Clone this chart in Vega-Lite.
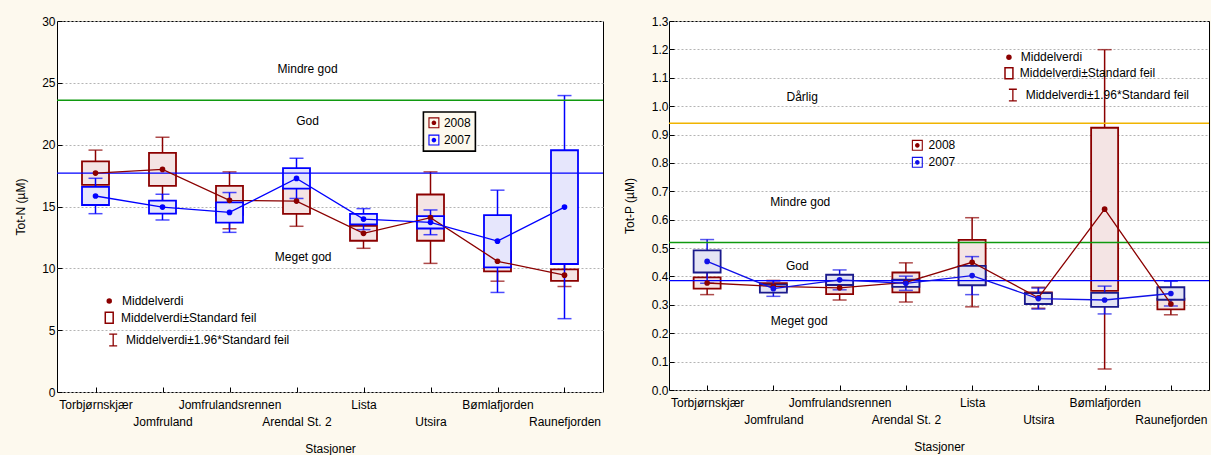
{
  "$schema": "https://vega.github.io/schema/vega-lite/v6.json",
  "background": "#FDF9EE",
  "padding": {"left": 14, "top": 14, "right": 0, "bottom": 0},
  "spacing": 17,
  "datasets": {
    "totN": [
      {"i": 0, "station": "Torbjørnskjær", "year": "2008", "lo95": 15.84, "lo": 16.75, "mean": 17.7, "hi": 18.65, "hi95": 19.56},
      {"i": 0, "station": "Torbjørnskjær", "year": "2007", "lo95": 14.42, "lo": 15.12, "mean": 15.85, "hi": 16.58, "hi95": 17.28},
      {"i": 1, "station": "Jomfruland", "year": "2008", "lo95": 15.4, "lo": 16.67, "mean": 18.0, "hi": 19.33, "hi95": 20.6},
      {"i": 1, "station": "Jomfruland", "year": "2007", "lo95": 13.91, "lo": 14.42, "mean": 14.95, "hi": 15.48, "hi95": 15.99},
      {"i": 2, "station": "Jomfrulandsrennen", "year": "2008", "lo95": 13.2, "lo": 14.33, "mean": 15.5, "hi": 16.67, "hi95": 17.8},
      {"i": 2, "station": "Jomfrulandsrennen", "year": "2007", "lo95": 12.91, "lo": 13.7, "mean": 14.52, "hi": 15.34, "hi95": 16.13},
      {"i": 3, "station": "Arendal St. 2", "year": "2008", "lo95": 13.4, "lo": 14.4, "mean": 15.44, "hi": 16.48, "hi95": 17.48},
      {"i": 3, "station": "Arendal St. 2", "year": "2007", "lo95": 15.65, "lo": 16.44, "mean": 17.27, "hi": 18.1, "hi95": 18.9},
      {"i": 4, "station": "Lista", "year": "2008", "lo95": 11.62, "lo": 12.23, "mean": 12.83, "hi": 13.43, "hi95": 14.04},
      {"i": 4, "station": "Lista", "year": "2007", "lo95": 13.13, "lo": 13.55, "mean": 13.98, "hi": 14.41, "hi95": 14.83},
      {"i": 5, "station": "Utsira", "year": "2008", "lo95": 10.4, "lo": 12.23, "mean": 14.1, "hi": 15.97, "hi95": 17.8},
      {"i": 5, "station": "Utsira", "year": "2007", "lo95": 12.72, "lo": 13.22, "mean": 13.72, "hi": 14.22, "hi95": 14.72},
      {"i": 6, "station": "Bømlafjorden", "year": "2008", "lo95": 8.96, "lo": 9.75, "mean": 10.57, "hi": 11.39, "hi95": 12.18},
      {"i": 6, "station": "Bømlafjorden", "year": "2007", "lo95": 8.05, "lo": 10.08, "mean": 12.2, "hi": 14.3, "hi95": 16.32},
      {"i": 7, "station": "Raunefjorden", "year": "2008", "lo95": 8.53, "lo": 8.98, "mean": 9.45, "hi": 9.92, "hi95": 10.37},
      {"i": 7, "station": "Raunefjorden", "year": "2007", "lo95": 5.93, "lo": 10.35, "mean": 14.95, "hi": 19.55, "hi95": 23.97}
    ],
    "totP": [
      {"i": 0, "station": "Torbjørnskjær", "year": "2008", "lo95": 0.336, "lo": 0.357, "mean": 0.377, "hi": 0.397, "hi95": 0.418},
      {"i": 0, "station": "Torbjørnskjær", "year": "2007", "lo95": 0.376, "lo": 0.414, "mean": 0.453, "hi": 0.492, "hi95": 0.53},
      {"i": 1, "station": "Jomfruland", "year": "2008", "lo95": 0.344, "lo": 0.354, "mean": 0.365, "hi": 0.376, "hi95": 0.386},
      {"i": 1, "station": "Jomfruland", "year": "2007", "lo95": 0.33, "lo": 0.343, "mean": 0.357, "hi": 0.371, "hi95": 0.384},
      {"i": 2, "station": "Jomfrulandsrennen", "year": "2008", "lo95": 0.317, "lo": 0.338, "mean": 0.36, "hi": 0.382, "hi95": 0.403},
      {"i": 2, "station": "Jomfrulandsrennen", "year": "2007", "lo95": 0.353, "lo": 0.37, "mean": 0.388, "hi": 0.406, "hi95": 0.423},
      {"i": 3, "station": "Arendal St. 2", "year": "2008", "lo95": 0.31, "lo": 0.344, "mean": 0.379, "hi": 0.414, "hi95": 0.448},
      {"i": 3, "station": "Arendal St. 2", "year": "2007", "lo95": 0.351, "lo": 0.363, "mean": 0.376, "hi": 0.389, "hi95": 0.401},
      {"i": 4, "station": "Lista", "year": "2008", "lo95": 0.293, "lo": 0.371, "mean": 0.45, "hi": 0.529, "hi95": 0.607},
      {"i": 4, "station": "Lista", "year": "2007", "lo95": 0.336, "lo": 0.369, "mean": 0.403, "hi": 0.437, "hi95": 0.47},
      {"i": 5, "station": "Utsira", "year": "2008", "lo95": 0.288, "lo": 0.306, "mean": 0.325, "hi": 0.344, "hi95": 0.362},
      {"i": 5, "station": "Utsira", "year": "2007", "lo95": 0.285, "lo": 0.303, "mean": 0.322, "hi": 0.341, "hi95": 0.359},
      {"i": 6, "station": "Bømlafjorden", "year": "2008", "lo95": 0.074, "lo": 0.349, "mean": 0.637, "hi": 0.924, "hi95": 1.199},
      {"i": 6, "station": "Bømlafjorden", "year": "2007", "lo95": 0.268, "lo": 0.293, "mean": 0.317, "hi": 0.342, "hi95": 0.366},
      {"i": 7, "station": "Raunefjorden", "year": "2008", "lo95": 0.265, "lo": 0.284, "mean": 0.303, "hi": 0.322, "hi95": 0.341},
      {"i": 7, "station": "Raunefjorden", "year": "2007", "lo95": 0.296, "lo": 0.318, "mean": 0.34, "hi": 0.362, "hi95": 0.383}
    ],
    "refN": [
      {"v": 23.6, "k": "green"},
      {"v": 17.7, "k": "blue"}
    ],
    "refP": [
      {"v": 0.94, "k": "yellow"},
      {"v": 0.52, "k": "green"},
      {"v": 0.385, "k": "blue"}
    ],
    "zonesN": [
      {"x": 3.165, "y": 26.1, "t": "Mindre god"},
      {"x": 3.165, "y": 21.9, "t": "God"},
      {"x": 3.1, "y": 10.9, "t": "Meget god"}
    ],
    "zonesP": [
      {"x": 1.435, "y": 1.031, "t": "Dårlig"},
      {"x": 1.405, "y": 0.664, "t": "Mindre god"},
      {"x": 1.36, "y": 0.438, "t": "God"},
      {"x": 1.39, "y": 0.242, "t": "Meget god"}
    ],
    "notesN": [
      {"sx": 0.205, "tx": 0.396, "y": 7.36, "t": "Middelverdi", "sym": "dot"},
      {"sx": 0.205, "tx": 0.381, "y": 6.0, "t": "Middelverdi±Standard feil", "sym": "box"},
      {"sx": 0.264, "tx": 0.454, "y": 4.2, "t": "Middelverdi±1.96*Standard feil", "sym": "whisker"}
    ],
    "notesP": [
      {"sx": 4.556, "tx": 4.734, "y": 1.172, "t": "Middelverdi", "sym": "dot"},
      {"sx": 4.556, "tx": 4.72, "y": 1.116, "t": "Middelverdi±Standard feil", "sym": "box"},
      {"sx": 4.615, "tx": 4.808, "y": 1.039, "t": "Middelverdi±1.96*Standard feil", "sym": "whisker"}
    ],
    "keyN": [
      {"year": "2008", "sx": 5.051, "tx": 5.2, "y": 21.77},
      {"year": "2007", "sx": 5.051, "tx": 5.2, "y": 20.37}
    ],
    "keyBoxN": [
      {"x": 4.894, "x2": 5.67, "y": 22.64, "y2": 19.48}
    ],
    "keyP": [
      {"year": "2008", "sx": 3.173, "tx": 3.343, "y": 0.862},
      {"year": "2007", "sx": 3.173, "tx": 3.343, "y": 0.802}
    ]
  },
  "hconcat": [
    {
      "width": 546,
      "height": 371,
      "layer": [
        {
          "data": {"name": "zonesN"},
          "mark": {"type": "text", "fontSize": 12, "font": "Liberation Sans", "color": "black"},
          "encoding": {
            "x": {"field": "x", "type": "quantitative", "scale": {"domain": [-0.5, 7.5], "nice": false, "zero": false},
              "axis": {"title": "Stasjoner", "values": [0, 1, 2, 3, 4, 5, 6, 7], "labelExpr": "['Torbjørnskjær','Jomfruland','Jomfrulandsrennen','Arendal St. 2','Lista','Utsira','Bømlafjorden','Raunefjorden'][datum.value]", "labelPadding": {"condition": {"test": "datum.value % 2 == 1", "value": 29}, "value": 12}, "grid": false, "tickSize": -5, "labelOverlap": false, "labelFlush": false, "titlePadding": 16}},
            "y": {"field": "y", "type": "quantitative", "scale": {"domain": [0, 30], "nice": false, "zero": false},
              "axis": {"title": "Tot-N (µM)", "values": [0, 5, 10, 15, 20, 25, 30], "grid": true, "gridDash": [2, 2], "gridColor": "#b4b4b4", "tickSize": -5, "labelPadding": 7, "titlePadding": 14, "labelOverlap": false}},
            "text": {"field": "t"}
          }
        },
        {
          "data": {"name": "totN"},
          "transform": [{"filter": "datum.year == '2008'"}],
          "mark": {"type": "errorbar", "ticks": {"size": 14}, "thickness": 1.5},
          "encoding": {
            "x": {"field": "i", "type": "quantitative", "scale": {"domain": [-0.5, 7.5], "nice": false, "zero": false},
              "axis": {"title": "Stasjoner", "values": [0, 1, 2, 3, 4, 5, 6, 7], "labelExpr": "['Torbjørnskjær','Jomfruland','Jomfrulandsrennen','Arendal St. 2','Lista','Utsira','Bømlafjorden','Raunefjorden'][datum.value]", "labelPadding": {"condition": {"test": "datum.value % 2 == 1", "value": 29}, "value": 12}, "grid": false, "tickSize": -5, "labelOverlap": false, "labelFlush": false, "titlePadding": 16}},
            "y": {"field": "lo95", "type": "quantitative", "scale": {"domain": [0, 30], "nice": false, "zero": false},
              "axis": {"title": "Tot-N (µM)", "values": [0, 5, 10, 15, 20, 25, 30], "grid": true, "gridDash": [2, 2], "gridColor": "#b4b4b4", "tickSize": -5, "labelPadding": 7, "titlePadding": 14, "labelOverlap": false}},
            "y2": {"field": "hi95"},
            "color": {"field": "year", "type": "nominal", "scale": {"domain": ["2008", "2007"], "range": ["#8B0000", "#0000FF"]}, "legend": null}
          }
        },
        {
          "data": {"name": "totN"},
          "transform": [{"filter": "datum.year == '2008'"}],
          "mark": {"type": "bar", "fill": "#F4E4E4", "strokeWidth": 1.8, "size": 27, "stroke": "#8B0000"},
          "encoding": {
            "x": {"field": "i", "type": "quantitative", "scale": {"domain": [-0.5, 7.5], "nice": false, "zero": false},
              "axis": {"title": "Stasjoner", "values": [0, 1, 2, 3, 4, 5, 6, 7], "labelExpr": "['Torbjørnskjær','Jomfruland','Jomfrulandsrennen','Arendal St. 2','Lista','Utsira','Bømlafjorden','Raunefjorden'][datum.value]", "labelPadding": {"condition": {"test": "datum.value % 2 == 1", "value": 29}, "value": 12}, "grid": false, "tickSize": -5, "labelOverlap": false, "labelFlush": false, "titlePadding": 16}},
            "y": {"field": "lo", "type": "quantitative", "scale": {"domain": [0, 30], "nice": false, "zero": false},
              "axis": {"title": "Tot-N (µM)", "values": [0, 5, 10, 15, 20, 25, 30], "grid": true, "gridDash": [2, 2], "gridColor": "#b4b4b4", "tickSize": -5, "labelPadding": 7, "titlePadding": 14, "labelOverlap": false}},
            "y2": {"field": "hi"}
          }
        },
        {
          "data": {"name": "totN"},
          "transform": [{"filter": "datum.year == '2007'"}],
          "mark": {"type": "errorbar", "ticks": {"size": 14}, "thickness": 1.5},
          "encoding": {
            "x": {"field": "i", "type": "quantitative", "scale": {"domain": [-0.5, 7.5], "nice": false, "zero": false},
              "axis": {"title": "Stasjoner", "values": [0, 1, 2, 3, 4, 5, 6, 7], "labelExpr": "['Torbjørnskjær','Jomfruland','Jomfrulandsrennen','Arendal St. 2','Lista','Utsira','Bømlafjorden','Raunefjorden'][datum.value]", "labelPadding": {"condition": {"test": "datum.value % 2 == 1", "value": 29}, "value": 12}, "grid": false, "tickSize": -5, "labelOverlap": false, "labelFlush": false, "titlePadding": 16}},
            "y": {"field": "lo95", "type": "quantitative", "scale": {"domain": [0, 30], "nice": false, "zero": false},
              "axis": {"title": "Tot-N (µM)", "values": [0, 5, 10, 15, 20, 25, 30], "grid": true, "gridDash": [2, 2], "gridColor": "#b4b4b4", "tickSize": -5, "labelPadding": 7, "titlePadding": 14, "labelOverlap": false}},
            "y2": {"field": "hi95"},
            "color": {"field": "year", "type": "nominal", "scale": {"domain": ["2008", "2007"], "range": ["#8B0000", "#0000FF"]}, "legend": null}
          }
        },
        {
          "data": {"name": "totN"},
          "transform": [{"filter": "datum.year == '2007'"}],
          "mark": {"type": "bar", "fill": "#E6E6FC", "strokeWidth": 1.8, "size": 27, "stroke": "#0000FF"},
          "encoding": {
            "x": {"field": "i", "type": "quantitative", "scale": {"domain": [-0.5, 7.5], "nice": false, "zero": false},
              "axis": {"title": "Stasjoner", "values": [0, 1, 2, 3, 4, 5, 6, 7], "labelExpr": "['Torbjørnskjær','Jomfruland','Jomfrulandsrennen','Arendal St. 2','Lista','Utsira','Bømlafjorden','Raunefjorden'][datum.value]", "labelPadding": {"condition": {"test": "datum.value % 2 == 1", "value": 29}, "value": 12}, "grid": false, "tickSize": -5, "labelOverlap": false, "labelFlush": false, "titlePadding": 16}},
            "y": {"field": "lo", "type": "quantitative", "scale": {"domain": [0, 30], "nice": false, "zero": false},
              "axis": {"title": "Tot-N (µM)", "values": [0, 5, 10, 15, 20, 25, 30], "grid": true, "gridDash": [2, 2], "gridColor": "#b4b4b4", "tickSize": -5, "labelPadding": 7, "titlePadding": 14, "labelOverlap": false}},
            "y2": {"field": "hi"}
          }
        },
        {
          "data": {"name": "refN"},
          "transform": [{"filter": "datum.k == 'green'"}],
          "mark": {"type": "rule", "color": "#109A10", "strokeWidth": 1.5},
          "encoding": {"y": {"field": "v", "type": "quantitative", "scale": {"domain": [0, 30], "nice": false, "zero": false},
            "axis": {"title": "Tot-N (µM)", "values": [0, 5, 10, 15, 20, 25, 30], "grid": true, "gridDash": [2, 2], "gridColor": "#b4b4b4", "tickSize": -5, "labelPadding": 7, "titlePadding": 14, "labelOverlap": false}}}
        },
        {
          "data": {"name": "refN"},
          "transform": [{"filter": "datum.k == 'blue'"}],
          "mark": {"type": "rule", "color": "#0000FF", "strokeWidth": 1.3},
          "encoding": {"y": {"field": "v", "type": "quantitative", "scale": {"domain": [0, 30], "nice": false, "zero": false},
            "axis": {"title": "Tot-N (µM)", "values": [0, 5, 10, 15, 20, 25, 30], "grid": true, "gridDash": [2, 2], "gridColor": "#b4b4b4", "tickSize": -5, "labelPadding": 7, "titlePadding": 14, "labelOverlap": false}}}
        },
        {
          "data": {"name": "totN"},
          "mark": {"type": "line", "strokeWidth": 1.3},
          "encoding": {
            "x": {"field": "i", "type": "quantitative", "scale": {"domain": [-0.5, 7.5], "nice": false, "zero": false},
              "axis": {"title": "Stasjoner", "values": [0, 1, 2, 3, 4, 5, 6, 7], "labelExpr": "['Torbjørnskjær','Jomfruland','Jomfrulandsrennen','Arendal St. 2','Lista','Utsira','Bømlafjorden','Raunefjorden'][datum.value]", "labelPadding": {"condition": {"test": "datum.value % 2 == 1", "value": 29}, "value": 12}, "grid": false, "tickSize": -5, "labelOverlap": false, "labelFlush": false, "titlePadding": 16}},
            "y": {"field": "mean", "type": "quantitative", "scale": {"domain": [0, 30], "nice": false, "zero": false},
              "axis": {"title": "Tot-N (µM)", "values": [0, 5, 10, 15, 20, 25, 30], "grid": true, "gridDash": [2, 2], "gridColor": "#b4b4b4", "tickSize": -5, "labelPadding": 7, "titlePadding": 14, "labelOverlap": false}},
            "color": {"field": "year", "type": "nominal", "scale": {"domain": ["2008", "2007"], "range": ["#8B0000", "#0000FF"]}, "legend": null}
          }
        },
        {
          "data": {"name": "totN"},
          "mark": {"type": "point", "filled": true, "size": 32, "opacity": 1},
          "encoding": {
            "x": {"field": "i", "type": "quantitative", "scale": {"domain": [-0.5, 7.5], "nice": false, "zero": false},
              "axis": {"title": "Stasjoner", "values": [0, 1, 2, 3, 4, 5, 6, 7], "labelExpr": "['Torbjørnskjær','Jomfruland','Jomfrulandsrennen','Arendal St. 2','Lista','Utsira','Bømlafjorden','Raunefjorden'][datum.value]", "labelPadding": {"condition": {"test": "datum.value % 2 == 1", "value": 29}, "value": 12}, "grid": false, "tickSize": -5, "labelOverlap": false, "labelFlush": false, "titlePadding": 16}},
            "y": {"field": "mean", "type": "quantitative", "scale": {"domain": [0, 30], "nice": false, "zero": false},
              "axis": {"title": "Tot-N (µM)", "values": [0, 5, 10, 15, 20, 25, 30], "grid": true, "gridDash": [2, 2], "gridColor": "#b4b4b4", "tickSize": -5, "labelPadding": 7, "titlePadding": 14, "labelOverlap": false}},
            "color": {"field": "year", "type": "nominal", "scale": {"domain": ["2008", "2007"], "range": ["#8B0000", "#0000FF"]}, "legend": null}
          }
        },
        {
          "data": {"name": "keyBoxN"},
          "mark": {"type": "rect", "fill": "#FDF9EE", "stroke": "black", "strokeWidth": 1.6},
          "encoding": {
            "x": {"field": "x", "type": "quantitative", "scale": {"domain": [-0.5, 7.5], "nice": false, "zero": false},
              "axis": {"title": "Stasjoner", "values": [0, 1, 2, 3, 4, 5, 6, 7], "labelExpr": "['Torbjørnskjær','Jomfruland','Jomfrulandsrennen','Arendal St. 2','Lista','Utsira','Bømlafjorden','Raunefjorden'][datum.value]", "labelPadding": {"condition": {"test": "datum.value % 2 == 1", "value": 29}, "value": 12}, "grid": false, "tickSize": -5, "labelOverlap": false, "labelFlush": false, "titlePadding": 16}},
            "x2": {"field": "x2"},
            "y": {"field": "y", "type": "quantitative", "scale": {"domain": [0, 30], "nice": false, "zero": false},
              "axis": {"title": "Tot-N (µM)", "values": [0, 5, 10, 15, 20, 25, 30], "grid": true, "gridDash": [2, 2], "gridColor": "#b4b4b4", "tickSize": -5, "labelPadding": 7, "titlePadding": 14, "labelOverlap": false}},
            "y2": {"field": "y2"}
          }
        },
        {
          "data": {"name": "keyN"},
          "mark": {"type": "point", "filled": true, "size": 121, "opacity": 1, "strokeWidth": 0, "shape": "M-1,-1H1V1H-1ZM-0.8,-0.8V0.8H0.8V-0.8ZM0,-0.42A0.42,0.42 0 1,1 0,0.42A0.42,0.42 0 1,1 0,-0.42Z"},
          "encoding": {
            "x": {"field": "sx", "type": "quantitative", "scale": {"domain": [-0.5, 7.5], "nice": false, "zero": false},
              "axis": {"title": "Stasjoner", "values": [0, 1, 2, 3, 4, 5, 6, 7], "labelExpr": "['Torbjørnskjær','Jomfruland','Jomfrulandsrennen','Arendal St. 2','Lista','Utsira','Bømlafjorden','Raunefjorden'][datum.value]", "labelPadding": {"condition": {"test": "datum.value % 2 == 1", "value": 29}, "value": 12}, "grid": false, "tickSize": -5, "labelOverlap": false, "labelFlush": false, "titlePadding": 16}},
            "y": {"field": "y", "type": "quantitative", "scale": {"domain": [0, 30], "nice": false, "zero": false},
              "axis": {"title": "Tot-N (µM)", "values": [0, 5, 10, 15, 20, 25, 30], "grid": true, "gridDash": [2, 2], "gridColor": "#b4b4b4", "tickSize": -5, "labelPadding": 7, "titlePadding": 14, "labelOverlap": false}},
            "color": {"field": "year", "type": "nominal", "scale": {"domain": ["2008", "2007"], "range": ["#8B0000", "#0000FF"]}, "legend": null}
          }
        },
        {
          "data": {"name": "keyN"},
          "mark": {"type": "text", "align": "left", "baseline": "middle", "fontSize": 12, "font": "Liberation Sans", "color": "black"},
          "encoding": {
            "x": {"field": "tx", "type": "quantitative", "scale": {"domain": [-0.5, 7.5], "nice": false, "zero": false},
              "axis": {"title": "Stasjoner", "values": [0, 1, 2, 3, 4, 5, 6, 7], "labelExpr": "['Torbjørnskjær','Jomfruland','Jomfrulandsrennen','Arendal St. 2','Lista','Utsira','Bømlafjorden','Raunefjorden'][datum.value]", "labelPadding": {"condition": {"test": "datum.value % 2 == 1", "value": 29}, "value": 12}, "grid": false, "tickSize": -5, "labelOverlap": false, "labelFlush": false, "titlePadding": 16}},
            "y": {"field": "y", "type": "quantitative", "scale": {"domain": [0, 30], "nice": false, "zero": false},
              "axis": {"title": "Tot-N (µM)", "values": [0, 5, 10, 15, 20, 25, 30], "grid": true, "gridDash": [2, 2], "gridColor": "#b4b4b4", "tickSize": -5, "labelPadding": 7, "titlePadding": 14, "labelOverlap": false}},
            "text": {"field": "year"}
          }
        },
        {
          "data": {"name": "notesN"},
          "mark": {"type": "text", "align": "left", "baseline": "middle", "fontSize": 12, "font": "Liberation Sans", "color": "black"},
          "encoding": {
            "x": {"field": "tx", "type": "quantitative", "scale": {"domain": [-0.5, 7.5], "nice": false, "zero": false},
              "axis": {"title": "Stasjoner", "values": [0, 1, 2, 3, 4, 5, 6, 7], "labelExpr": "['Torbjørnskjær','Jomfruland','Jomfrulandsrennen','Arendal St. 2','Lista','Utsira','Bømlafjorden','Raunefjorden'][datum.value]", "labelPadding": {"condition": {"test": "datum.value % 2 == 1", "value": 29}, "value": 12}, "grid": false, "tickSize": -5, "labelOverlap": false, "labelFlush": false, "titlePadding": 16}},
            "y": {"field": "y", "type": "quantitative", "scale": {"domain": [0, 30], "nice": false, "zero": false},
              "axis": {"title": "Tot-N (µM)", "values": [0, 5, 10, 15, 20, 25, 30], "grid": true, "gridDash": [2, 2], "gridColor": "#b4b4b4", "tickSize": -5, "labelPadding": 7, "titlePadding": 14, "labelOverlap": false}},
            "text": {"field": "t"}
          }
        },
        {
          "data": {"name": "notesN"},
          "transform": [{"filter": "datum.sym == 'dot'"}],
          "mark": {"type": "point", "filled": true, "size": 30, "color": "#8B0000", "opacity": 1},
          "encoding": {
            "x": {"field": "sx", "type": "quantitative", "scale": {"domain": [-0.5, 7.5], "nice": false, "zero": false},
              "axis": {"title": "Stasjoner", "values": [0, 1, 2, 3, 4, 5, 6, 7], "labelExpr": "['Torbjørnskjær','Jomfruland','Jomfrulandsrennen','Arendal St. 2','Lista','Utsira','Bømlafjorden','Raunefjorden'][datum.value]", "labelPadding": {"condition": {"test": "datum.value % 2 == 1", "value": 29}, "value": 12}, "grid": false, "tickSize": -5, "labelOverlap": false, "labelFlush": false, "titlePadding": 16}},
            "y": {"field": "y", "type": "quantitative", "scale": {"domain": [0, 30], "nice": false, "zero": false},
              "axis": {"title": "Tot-N (µM)", "values": [0, 5, 10, 15, 20, 25, 30], "grid": true, "gridDash": [2, 2], "gridColor": "#b4b4b4", "tickSize": -5, "labelPadding": 7, "titlePadding": 14, "labelOverlap": false}}
          }
        },
        {
          "data": {"name": "notesN"},
          "transform": [{"filter": "datum.sym == 'box'"}],
          "mark": {"type": "point", "filled": false, "size": 121, "shape": "M-0.72,-1H0.72V1H-0.72Z", "color": "#8B0000", "strokeWidth": 1.5, "opacity": 1},
          "encoding": {
            "x": {"field": "sx", "type": "quantitative", "scale": {"domain": [-0.5, 7.5], "nice": false, "zero": false},
              "axis": {"title": "Stasjoner", "values": [0, 1, 2, 3, 4, 5, 6, 7], "labelExpr": "['Torbjørnskjær','Jomfruland','Jomfrulandsrennen','Arendal St. 2','Lista','Utsira','Bømlafjorden','Raunefjorden'][datum.value]", "labelPadding": {"condition": {"test": "datum.value % 2 == 1", "value": 29}, "value": 12}, "grid": false, "tickSize": -5, "labelOverlap": false, "labelFlush": false, "titlePadding": 16}},
            "y": {"field": "y", "type": "quantitative", "scale": {"domain": [0, 30], "nice": false, "zero": false},
              "axis": {"title": "Tot-N (µM)", "values": [0, 5, 10, 15, 20, 25, 30], "grid": true, "gridDash": [2, 2], "gridColor": "#b4b4b4", "tickSize": -5, "labelPadding": 7, "titlePadding": 14, "labelOverlap": false}}
          }
        },
        {
          "data": {"name": "notesN"},
          "transform": [{"filter": "datum.sym == 'whisker'"}],
          "mark": {"type": "point", "filled": false, "size": 137, "shape": "M-0.68,-1H0.68M0,-1V1M-0.68,1H0.68", "color": "#8B0000", "strokeWidth": 1.3, "opacity": 1},
          "encoding": {
            "x": {"field": "sx", "type": "quantitative", "scale": {"domain": [-0.5, 7.5], "nice": false, "zero": false},
              "axis": {"title": "Stasjoner", "values": [0, 1, 2, 3, 4, 5, 6, 7], "labelExpr": "['Torbjørnskjær','Jomfruland','Jomfrulandsrennen','Arendal St. 2','Lista','Utsira','Bømlafjorden','Raunefjorden'][datum.value]", "labelPadding": {"condition": {"test": "datum.value % 2 == 1", "value": 29}, "value": 12}, "grid": false, "tickSize": -5, "labelOverlap": false, "labelFlush": false, "titlePadding": 16}},
            "y": {"field": "y", "type": "quantitative", "scale": {"domain": [0, 30], "nice": false, "zero": false},
              "axis": {"title": "Tot-N (µM)", "values": [0, 5, 10, 15, 20, 25, 30], "grid": true, "gridDash": [2, 2], "gridColor": "#b4b4b4", "tickSize": -5, "labelPadding": 7, "titlePadding": 14, "labelOverlap": false}}
          }
        }
      ]
    },
    {
      "width": 540,
      "height": 369,
      "layer": [
        {
          "data": {"name": "zonesP"},
          "mark": {"type": "text", "fontSize": 12, "font": "Liberation Sans", "color": "black"},
          "encoding": {
            "x": {"field": "x", "type": "quantitative", "scale": {"domain": [-0.5, 7.5], "nice": false, "zero": false},
              "axis": {"title": "Stasjoner", "values": [0, 1, 2, 3, 4, 5, 6, 7], "labelExpr": "['Torbjørnskjær','Jomfruland','Jomfrulandsrennen','Arendal St. 2','Lista','Utsira','Bømlafjorden','Raunefjorden'][datum.value]", "labelPadding": {"condition": {"test": "datum.value % 2 == 1", "value": 29}, "value": 12}, "grid": false, "tickSize": -5, "labelOverlap": false, "labelFlush": false, "titlePadding": 16}},
            "y": {"field": "y", "type": "quantitative", "scale": {"domain": [0, 1.3], "nice": false, "zero": false},
              "axis": {"title": "Tot-P (µM)", "values": [0, 0.1, 0.2, 0.3, 0.4, 0.5, 0.6, 0.7, 0.8, 0.9, 1.0, 1.1, 1.2, 1.3], "format": ".1f", "grid": true, "gridDash": [2, 2], "gridColor": "#b4b4b4", "tickSize": -5, "labelPadding": 6, "titlePadding": 15, "labelOverlap": false}},
            "text": {"field": "t"}
          }
        },
        {
          "data": {"name": "totP"},
          "transform": [{"filter": "datum.year == '2008'"}],
          "mark": {"type": "errorbar", "ticks": {"size": 14}, "thickness": 1.5},
          "encoding": {
            "x": {"field": "i", "type": "quantitative", "scale": {"domain": [-0.5, 7.5], "nice": false, "zero": false},
              "axis": {"title": "Stasjoner", "values": [0, 1, 2, 3, 4, 5, 6, 7], "labelExpr": "['Torbjørnskjær','Jomfruland','Jomfrulandsrennen','Arendal St. 2','Lista','Utsira','Bømlafjorden','Raunefjorden'][datum.value]", "labelPadding": {"condition": {"test": "datum.value % 2 == 1", "value": 29}, "value": 12}, "grid": false, "tickSize": -5, "labelOverlap": false, "labelFlush": false, "titlePadding": 16}},
            "y": {"field": "lo95", "type": "quantitative", "scale": {"domain": [0, 1.3], "nice": false, "zero": false},
              "axis": {"title": "Tot-P (µM)", "values": [0, 0.1, 0.2, 0.3, 0.4, 0.5, 0.6, 0.7, 0.8, 0.9, 1.0, 1.1, 1.2, 1.3], "format": ".1f", "grid": true, "gridDash": [2, 2], "gridColor": "#b4b4b4", "tickSize": -5, "labelPadding": 6, "titlePadding": 15, "labelOverlap": false}},
            "y2": {"field": "hi95"},
            "color": {"field": "year", "type": "nominal", "scale": {"domain": ["2008", "2007"], "range": ["#8B0000", "#1010E8"]}, "legend": null}
          }
        },
        {
          "data": {"name": "totP"},
          "transform": [{"filter": "datum.year == '2008'"}],
          "mark": {"type": "bar", "fill": "#F4E4E4", "strokeWidth": 1.8, "size": 27, "stroke": "#8B0000"},
          "encoding": {
            "x": {"field": "i", "type": "quantitative", "scale": {"domain": [-0.5, 7.5], "nice": false, "zero": false},
              "axis": {"title": "Stasjoner", "values": [0, 1, 2, 3, 4, 5, 6, 7], "labelExpr": "['Torbjørnskjær','Jomfruland','Jomfrulandsrennen','Arendal St. 2','Lista','Utsira','Bømlafjorden','Raunefjorden'][datum.value]", "labelPadding": {"condition": {"test": "datum.value % 2 == 1", "value": 29}, "value": 12}, "grid": false, "tickSize": -5, "labelOverlap": false, "labelFlush": false, "titlePadding": 16}},
            "y": {"field": "lo", "type": "quantitative", "scale": {"domain": [0, 1.3], "nice": false, "zero": false},
              "axis": {"title": "Tot-P (µM)", "values": [0, 0.1, 0.2, 0.3, 0.4, 0.5, 0.6, 0.7, 0.8, 0.9, 1.0, 1.1, 1.2, 1.3], "format": ".1f", "grid": true, "gridDash": [2, 2], "gridColor": "#b4b4b4", "tickSize": -5, "labelPadding": 6, "titlePadding": 15, "labelOverlap": false}},
            "y2": {"field": "hi"}
          }
        },
        {
          "data": {"name": "totP"},
          "transform": [{"filter": "datum.year == '2007'"}],
          "mark": {"type": "errorbar", "ticks": {"size": 14}, "thickness": 1.5},
          "encoding": {
            "x": {"field": "i", "type": "quantitative", "scale": {"domain": [-0.5, 7.5], "nice": false, "zero": false},
              "axis": {"title": "Stasjoner", "values": [0, 1, 2, 3, 4, 5, 6, 7], "labelExpr": "['Torbjørnskjær','Jomfruland','Jomfrulandsrennen','Arendal St. 2','Lista','Utsira','Bømlafjorden','Raunefjorden'][datum.value]", "labelPadding": {"condition": {"test": "datum.value % 2 == 1", "value": 29}, "value": 12}, "grid": false, "tickSize": -5, "labelOverlap": false, "labelFlush": false, "titlePadding": 16}},
            "y": {"field": "lo95", "type": "quantitative", "scale": {"domain": [0, 1.3], "nice": false, "zero": false},
              "axis": {"title": "Tot-P (µM)", "values": [0, 0.1, 0.2, 0.3, 0.4, 0.5, 0.6, 0.7, 0.8, 0.9, 1.0, 1.1, 1.2, 1.3], "format": ".1f", "grid": true, "gridDash": [2, 2], "gridColor": "#b4b4b4", "tickSize": -5, "labelPadding": 6, "titlePadding": 15, "labelOverlap": false}},
            "y2": {"field": "hi95"},
            "color": {"field": "year", "type": "nominal", "scale": {"domain": ["2008", "2007"], "range": ["#8B0000", "#1010E8"]}, "legend": null}
          }
        },
        {
          "data": {"name": "totP"},
          "transform": [{"filter": "datum.year == '2007'"}],
          "mark": {"type": "bar", "fill": "#E4E4F4", "strokeWidth": 1.8, "size": 27, "stroke": "#1A1A8C"},
          "encoding": {
            "x": {"field": "i", "type": "quantitative", "scale": {"domain": [-0.5, 7.5], "nice": false, "zero": false},
              "axis": {"title": "Stasjoner", "values": [0, 1, 2, 3, 4, 5, 6, 7], "labelExpr": "['Torbjørnskjær','Jomfruland','Jomfrulandsrennen','Arendal St. 2','Lista','Utsira','Bømlafjorden','Raunefjorden'][datum.value]", "labelPadding": {"condition": {"test": "datum.value % 2 == 1", "value": 29}, "value": 12}, "grid": false, "tickSize": -5, "labelOverlap": false, "labelFlush": false, "titlePadding": 16}},
            "y": {"field": "lo", "type": "quantitative", "scale": {"domain": [0, 1.3], "nice": false, "zero": false},
              "axis": {"title": "Tot-P (µM)", "values": [0, 0.1, 0.2, 0.3, 0.4, 0.5, 0.6, 0.7, 0.8, 0.9, 1.0, 1.1, 1.2, 1.3], "format": ".1f", "grid": true, "gridDash": [2, 2], "gridColor": "#b4b4b4", "tickSize": -5, "labelPadding": 6, "titlePadding": 15, "labelOverlap": false}},
            "y2": {"field": "hi"}
          }
        },
        {
          "data": {"name": "refP"},
          "transform": [{"filter": "datum.k == 'yellow'"}],
          "mark": {"type": "rule", "color": "#F0B400", "strokeWidth": 1.5},
          "encoding": {"y": {"field": "v", "type": "quantitative", "scale": {"domain": [0, 1.3], "nice": false, "zero": false},
            "axis": {"title": "Tot-P (µM)", "values": [0, 0.1, 0.2, 0.3, 0.4, 0.5, 0.6, 0.7, 0.8, 0.9, 1.0, 1.1, 1.2, 1.3], "format": ".1f", "grid": true, "gridDash": [2, 2], "gridColor": "#b4b4b4", "tickSize": -5, "labelPadding": 6, "titlePadding": 15, "labelOverlap": false}}}
        },
        {
          "data": {"name": "refP"},
          "transform": [{"filter": "datum.k == 'green'"}],
          "mark": {"type": "rule", "color": "#109A10", "strokeWidth": 1.5},
          "encoding": {"y": {"field": "v", "type": "quantitative", "scale": {"domain": [0, 1.3], "nice": false, "zero": false},
            "axis": {"title": "Tot-P (µM)", "values": [0, 0.1, 0.2, 0.3, 0.4, 0.5, 0.6, 0.7, 0.8, 0.9, 1.0, 1.1, 1.2, 1.3], "format": ".1f", "grid": true, "gridDash": [2, 2], "gridColor": "#b4b4b4", "tickSize": -5, "labelPadding": 6, "titlePadding": 15, "labelOverlap": false}}}
        },
        {
          "data": {"name": "refP"},
          "transform": [{"filter": "datum.k == 'blue'"}],
          "mark": {"type": "rule", "color": "#0000FF", "strokeWidth": 1.3},
          "encoding": {"y": {"field": "v", "type": "quantitative", "scale": {"domain": [0, 1.3], "nice": false, "zero": false},
            "axis": {"title": "Tot-P (µM)", "values": [0, 0.1, 0.2, 0.3, 0.4, 0.5, 0.6, 0.7, 0.8, 0.9, 1.0, 1.1, 1.2, 1.3], "format": ".1f", "grid": true, "gridDash": [2, 2], "gridColor": "#b4b4b4", "tickSize": -5, "labelPadding": 6, "titlePadding": 15, "labelOverlap": false}}}
        },
        {
          "data": {"name": "totP"},
          "mark": {"type": "line", "strokeWidth": 1.3},
          "encoding": {
            "x": {"field": "i", "type": "quantitative", "scale": {"domain": [-0.5, 7.5], "nice": false, "zero": false},
              "axis": {"title": "Stasjoner", "values": [0, 1, 2, 3, 4, 5, 6, 7], "labelExpr": "['Torbjørnskjær','Jomfruland','Jomfrulandsrennen','Arendal St. 2','Lista','Utsira','Bømlafjorden','Raunefjorden'][datum.value]", "labelPadding": {"condition": {"test": "datum.value % 2 == 1", "value": 29}, "value": 12}, "grid": false, "tickSize": -5, "labelOverlap": false, "labelFlush": false, "titlePadding": 16}},
            "y": {"field": "mean", "type": "quantitative", "scale": {"domain": [0, 1.3], "nice": false, "zero": false},
              "axis": {"title": "Tot-P (µM)", "values": [0, 0.1, 0.2, 0.3, 0.4, 0.5, 0.6, 0.7, 0.8, 0.9, 1.0, 1.1, 1.2, 1.3], "format": ".1f", "grid": true, "gridDash": [2, 2], "gridColor": "#b4b4b4", "tickSize": -5, "labelPadding": 6, "titlePadding": 15, "labelOverlap": false}},
            "color": {"field": "year", "type": "nominal", "scale": {"domain": ["2008", "2007"], "range": ["#8B0000", "#1010E8"]}, "legend": null}
          }
        },
        {
          "data": {"name": "totP"},
          "mark": {"type": "point", "filled": true, "size": 32, "opacity": 1},
          "encoding": {
            "x": {"field": "i", "type": "quantitative", "scale": {"domain": [-0.5, 7.5], "nice": false, "zero": false},
              "axis": {"title": "Stasjoner", "values": [0, 1, 2, 3, 4, 5, 6, 7], "labelExpr": "['Torbjørnskjær','Jomfruland','Jomfrulandsrennen','Arendal St. 2','Lista','Utsira','Bømlafjorden','Raunefjorden'][datum.value]", "labelPadding": {"condition": {"test": "datum.value % 2 == 1", "value": 29}, "value": 12}, "grid": false, "tickSize": -5, "labelOverlap": false, "labelFlush": false, "titlePadding": 16}},
            "y": {"field": "mean", "type": "quantitative", "scale": {"domain": [0, 1.3], "nice": false, "zero": false},
              "axis": {"title": "Tot-P (µM)", "values": [0, 0.1, 0.2, 0.3, 0.4, 0.5, 0.6, 0.7, 0.8, 0.9, 1.0, 1.1, 1.2, 1.3], "format": ".1f", "grid": true, "gridDash": [2, 2], "gridColor": "#b4b4b4", "tickSize": -5, "labelPadding": 6, "titlePadding": 15, "labelOverlap": false}},
            "color": {"field": "year", "type": "nominal", "scale": {"domain": ["2008", "2007"], "range": ["#8B0000", "#1010E8"]}, "legend": null}
          }
        },
        {
          "data": {"name": "keyP"},
          "mark": {"type": "point", "filled": true, "size": 121, "opacity": 1, "strokeWidth": 0, "shape": "M-1,-1H1V1H-1ZM-0.8,-0.8V0.8H0.8V-0.8ZM0,-0.42A0.42,0.42 0 1,1 0,0.42A0.42,0.42 0 1,1 0,-0.42Z"},
          "encoding": {
            "x": {"field": "sx", "type": "quantitative", "scale": {"domain": [-0.5, 7.5], "nice": false, "zero": false},
              "axis": {"title": "Stasjoner", "values": [0, 1, 2, 3, 4, 5, 6, 7], "labelExpr": "['Torbjørnskjær','Jomfruland','Jomfrulandsrennen','Arendal St. 2','Lista','Utsira','Bømlafjorden','Raunefjorden'][datum.value]", "labelPadding": {"condition": {"test": "datum.value % 2 == 1", "value": 29}, "value": 12}, "grid": false, "tickSize": -5, "labelOverlap": false, "labelFlush": false, "titlePadding": 16}},
            "y": {"field": "y", "type": "quantitative", "scale": {"domain": [0, 1.3], "nice": false, "zero": false},
              "axis": {"title": "Tot-P (µM)", "values": [0, 0.1, 0.2, 0.3, 0.4, 0.5, 0.6, 0.7, 0.8, 0.9, 1.0, 1.1, 1.2, 1.3], "format": ".1f", "grid": true, "gridDash": [2, 2], "gridColor": "#b4b4b4", "tickSize": -5, "labelPadding": 6, "titlePadding": 15, "labelOverlap": false}},
            "color": {"field": "year", "type": "nominal", "scale": {"domain": ["2008", "2007"], "range": ["#8B0000", "#1010E8"]}, "legend": null}
          }
        },
        {
          "data": {"name": "keyP"},
          "mark": {"type": "text", "align": "left", "baseline": "middle", "fontSize": 12, "font": "Liberation Sans", "color": "black"},
          "encoding": {
            "x": {"field": "tx", "type": "quantitative", "scale": {"domain": [-0.5, 7.5], "nice": false, "zero": false},
              "axis": {"title": "Stasjoner", "values": [0, 1, 2, 3, 4, 5, 6, 7], "labelExpr": "['Torbjørnskjær','Jomfruland','Jomfrulandsrennen','Arendal St. 2','Lista','Utsira','Bømlafjorden','Raunefjorden'][datum.value]", "labelPadding": {"condition": {"test": "datum.value % 2 == 1", "value": 29}, "value": 12}, "grid": false, "tickSize": -5, "labelOverlap": false, "labelFlush": false, "titlePadding": 16}},
            "y": {"field": "y", "type": "quantitative", "scale": {"domain": [0, 1.3], "nice": false, "zero": false},
              "axis": {"title": "Tot-P (µM)", "values": [0, 0.1, 0.2, 0.3, 0.4, 0.5, 0.6, 0.7, 0.8, 0.9, 1.0, 1.1, 1.2, 1.3], "format": ".1f", "grid": true, "gridDash": [2, 2], "gridColor": "#b4b4b4", "tickSize": -5, "labelPadding": 6, "titlePadding": 15, "labelOverlap": false}},
            "text": {"field": "year"}
          }
        },
        {
          "data": {"name": "notesP"},
          "mark": {"type": "text", "align": "left", "baseline": "middle", "fontSize": 12, "font": "Liberation Sans", "color": "black"},
          "encoding": {
            "x": {"field": "tx", "type": "quantitative", "scale": {"domain": [-0.5, 7.5], "nice": false, "zero": false},
              "axis": {"title": "Stasjoner", "values": [0, 1, 2, 3, 4, 5, 6, 7], "labelExpr": "['Torbjørnskjær','Jomfruland','Jomfrulandsrennen','Arendal St. 2','Lista','Utsira','Bømlafjorden','Raunefjorden'][datum.value]", "labelPadding": {"condition": {"test": "datum.value % 2 == 1", "value": 29}, "value": 12}, "grid": false, "tickSize": -5, "labelOverlap": false, "labelFlush": false, "titlePadding": 16}},
            "y": {"field": "y", "type": "quantitative", "scale": {"domain": [0, 1.3], "nice": false, "zero": false},
              "axis": {"title": "Tot-P (µM)", "values": [0, 0.1, 0.2, 0.3, 0.4, 0.5, 0.6, 0.7, 0.8, 0.9, 1.0, 1.1, 1.2, 1.3], "format": ".1f", "grid": true, "gridDash": [2, 2], "gridColor": "#b4b4b4", "tickSize": -5, "labelPadding": 6, "titlePadding": 15, "labelOverlap": false}},
            "text": {"field": "t"}
          }
        },
        {
          "data": {"name": "notesP"},
          "transform": [{"filter": "datum.sym == 'dot'"}],
          "mark": {"type": "point", "filled": true, "size": 30, "color": "#8B0000", "opacity": 1},
          "encoding": {
            "x": {"field": "sx", "type": "quantitative", "scale": {"domain": [-0.5, 7.5], "nice": false, "zero": false},
              "axis": {"title": "Stasjoner", "values": [0, 1, 2, 3, 4, 5, 6, 7], "labelExpr": "['Torbjørnskjær','Jomfruland','Jomfrulandsrennen','Arendal St. 2','Lista','Utsira','Bømlafjorden','Raunefjorden'][datum.value]", "labelPadding": {"condition": {"test": "datum.value % 2 == 1", "value": 29}, "value": 12}, "grid": false, "tickSize": -5, "labelOverlap": false, "labelFlush": false, "titlePadding": 16}},
            "y": {"field": "y", "type": "quantitative", "scale": {"domain": [0, 1.3], "nice": false, "zero": false},
              "axis": {"title": "Tot-P (µM)", "values": [0, 0.1, 0.2, 0.3, 0.4, 0.5, 0.6, 0.7, 0.8, 0.9, 1.0, 1.1, 1.2, 1.3], "format": ".1f", "grid": true, "gridDash": [2, 2], "gridColor": "#b4b4b4", "tickSize": -5, "labelPadding": 6, "titlePadding": 15, "labelOverlap": false}}
          }
        },
        {
          "data": {"name": "notesP"},
          "transform": [{"filter": "datum.sym == 'box'"}],
          "mark": {"type": "point", "filled": false, "size": 121, "shape": "M-0.72,-1H0.72V1H-0.72Z", "color": "#8B0000", "strokeWidth": 1.5, "opacity": 1},
          "encoding": {
            "x": {"field": "sx", "type": "quantitative", "scale": {"domain": [-0.5, 7.5], "nice": false, "zero": false},
              "axis": {"title": "Stasjoner", "values": [0, 1, 2, 3, 4, 5, 6, 7], "labelExpr": "['Torbjørnskjær','Jomfruland','Jomfrulandsrennen','Arendal St. 2','Lista','Utsira','Bømlafjorden','Raunefjorden'][datum.value]", "labelPadding": {"condition": {"test": "datum.value % 2 == 1", "value": 29}, "value": 12}, "grid": false, "tickSize": -5, "labelOverlap": false, "labelFlush": false, "titlePadding": 16}},
            "y": {"field": "y", "type": "quantitative", "scale": {"domain": [0, 1.3], "nice": false, "zero": false},
              "axis": {"title": "Tot-P (µM)", "values": [0, 0.1, 0.2, 0.3, 0.4, 0.5, 0.6, 0.7, 0.8, 0.9, 1.0, 1.1, 1.2, 1.3], "format": ".1f", "grid": true, "gridDash": [2, 2], "gridColor": "#b4b4b4", "tickSize": -5, "labelPadding": 6, "titlePadding": 15, "labelOverlap": false}}
          }
        },
        {
          "data": {"name": "notesP"},
          "transform": [{"filter": "datum.sym == 'whisker'"}],
          "mark": {"type": "point", "filled": false, "size": 137, "shape": "M-0.68,-1H0.68M0,-1V1M-0.68,1H0.68", "color": "#8B0000", "strokeWidth": 1.3, "opacity": 1},
          "encoding": {
            "x": {"field": "sx", "type": "quantitative", "scale": {"domain": [-0.5, 7.5], "nice": false, "zero": false},
              "axis": {"title": "Stasjoner", "values": [0, 1, 2, 3, 4, 5, 6, 7], "labelExpr": "['Torbjørnskjær','Jomfruland','Jomfrulandsrennen','Arendal St. 2','Lista','Utsira','Bømlafjorden','Raunefjorden'][datum.value]", "labelPadding": {"condition": {"test": "datum.value % 2 == 1", "value": 29}, "value": 12}, "grid": false, "tickSize": -5, "labelOverlap": false, "labelFlush": false, "titlePadding": 16}},
            "y": {"field": "y", "type": "quantitative", "scale": {"domain": [0, 1.3], "nice": false, "zero": false},
              "axis": {"title": "Tot-P (µM)", "values": [0, 0.1, 0.2, 0.3, 0.4, 0.5, 0.6, 0.7, 0.8, 0.9, 1.0, 1.1, 1.2, 1.3], "format": ".1f", "grid": true, "gridDash": [2, 2], "gridColor": "#b4b4b4", "tickSize": -5, "labelPadding": 6, "titlePadding": 15, "labelOverlap": false}}
          }
        }
      ]
    }
  ],
  "resolve": {"scale": {"color": "independent"}},
  "config": {
    "font": "Liberation Sans",
    "view": {"fill": "white", "stroke": "black", "strokeWidth": 1},
    "axis": {"labelFont": "Liberation Sans", "labelFontSize": 12, "labelColor": "black", "titleFont": "Liberation Sans", "titleFontSize": 12,
      "titleFontWeight": "normal", "titleColor": "black", "domain": false, "tickColor": "black"}
  }
}
